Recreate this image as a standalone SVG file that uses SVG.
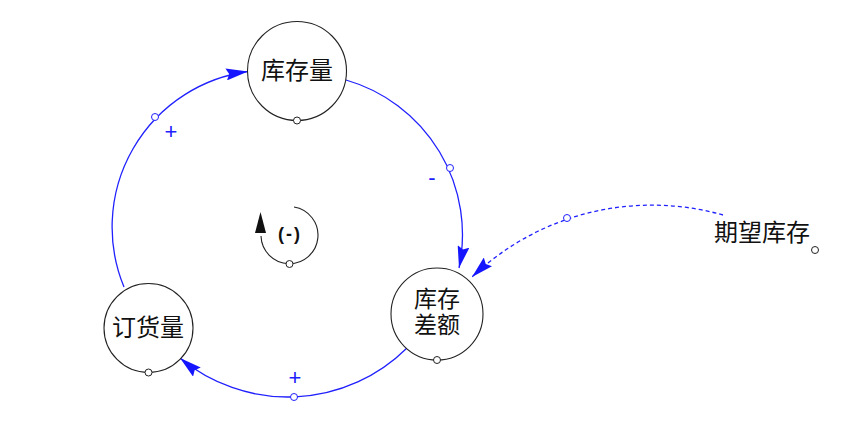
<svg xmlns="http://www.w3.org/2000/svg" width="842" height="422" viewBox="0 0 842 422">
<style>
.node{fill:#fff;stroke:#222;stroke-width:1.1}
.lbl{font-family:"Noto Sans CJK SC","Noto Sans",sans-serif;font-size:24px;fill:#111;text-anchor:middle}
.lbl2{font-size:23px}
.dot{fill:#fff;stroke:#222;stroke-width:1}
.bdot{fill:#fff;stroke:#2020ff;stroke-width:1}
.link{fill:none;stroke:#2020ff;stroke-width:1.3}
.dash{stroke-dasharray:4 3}
.pol{font-family:"Liberation Sans",Arial,sans-serif;font-size:22px;fill:#2020ff;text-anchor:middle}
</style>
<defs>
<marker id="ah" markerUnits="userSpaceOnUse" markerWidth="24" markerHeight="12" refX="22" refY="6" orient="auto">
<path d="M0,0 L22,6 L0,12 L3,6 z" fill="#1515ff"/>
</marker>
</defs>
<rect width="842" height="422" fill="#fff"/>
<g id="connectors">
<path class="link" d="M124,287 A157,157 0 0 1 248,71.5" marker-end="url(#ah)"/>
<path class="link" d="M346,80 A161,161 0 0 1 459,268" marker-end="url(#ah)"/>
<path class="link" d="M407,348 A169,169 0 0 1 180,358" marker-end="url(#ah)"/>
<path class="link dash" d="M723,215 A261,261 0 0 0 472,277" marker-end="url(#ah)"/>
<circle class="bdot" cx="155" cy="117" r="3.5"/>
<circle class="bdot" cx="450" cy="168" r="3.5"/>
<circle class="bdot" cx="294" cy="397" r="3.5"/>
<circle class="bdot" cx="567" cy="218" r="3.5"/>
<text class="pol" x="171" y="139">+</text>
<text class="pol" x="432" y="185">-</text>
<text class="pol" x="295" y="385">+</text>
</g>
<g id="loop">
<path d="M294,207 A28.5,28.5 0 1 1 261,236" fill="none" stroke="#222" stroke-width="1.1"/>
<path d="M255,233 L266,233 L260.5,212 z" fill="#111"/>
<circle class="dot" cx="289.5" cy="264" r="3.5"/>
<text x="290" y="240" font-family="Liberation Sans,Arial,sans-serif" font-size="18" font-weight="bold" letter-spacing="2" text-anchor="middle" fill="#111">(-)</text>
</g>
<g id="node-kucunliang">
<circle class="node" cx="297" cy="71" r="49.5"/>
<text class="lbl" x="297" y="79">库存量</text>
<circle class="dot" cx="297" cy="120.5" r="3.5"/>
</g>
<g id="node-kucunchae">
<circle class="node" cx="437" cy="314" r="46"/>
<text class="lbl lbl2" x="437" y="307">库存<tspan x="437" dy="26">差额</tspan></text>
<circle class="dot" cx="437" cy="360" r="3.5"/>
</g>
<g id="node-dinghuoliang">
<circle class="node" cx="148.5" cy="328" r="44.5"/>
<text class="lbl" x="148" y="336">订货量</text>
<circle class="dot" cx="148.5" cy="372.5" r="3.5"/>
</g>
<g id="node-qiwangkucun">
<text class="lbl" x="762" y="241">期望库存</text>
<circle class="dot" cx="815" cy="250" r="3.5"/>
</g>
</svg>
